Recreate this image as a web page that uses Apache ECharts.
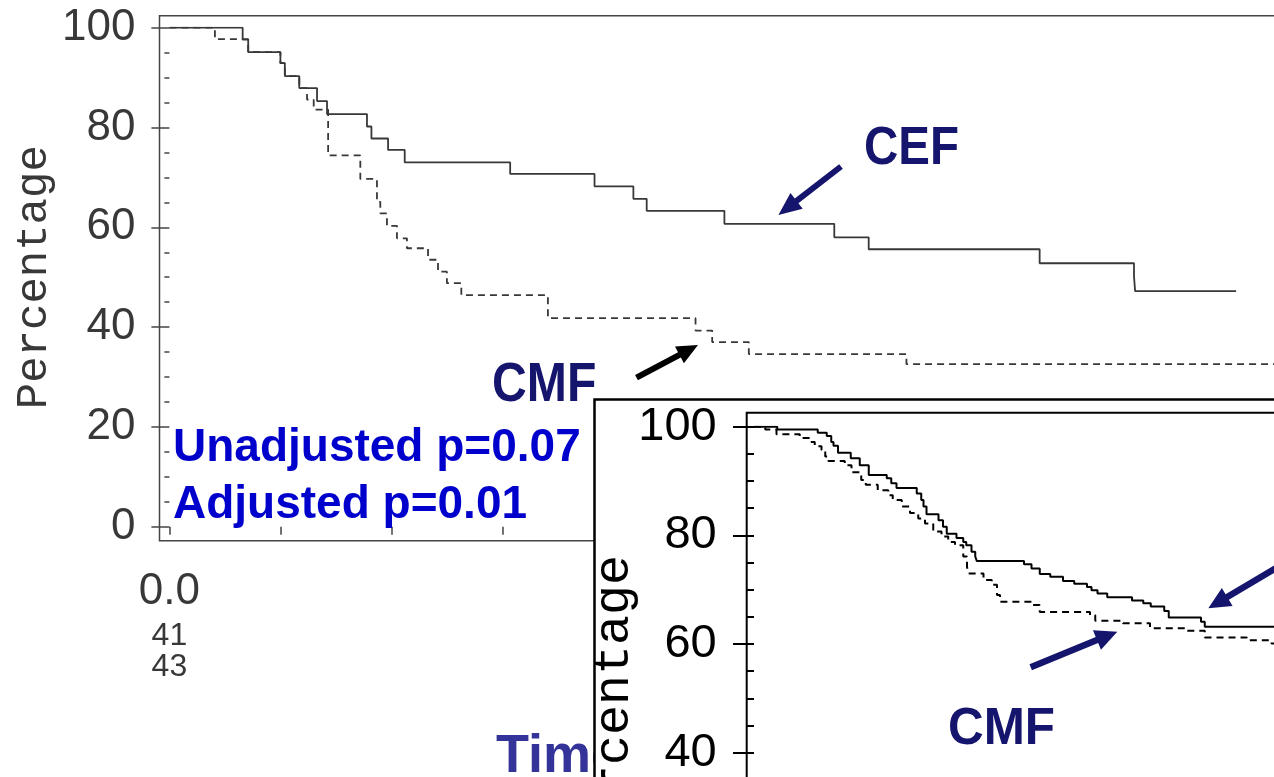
<!DOCTYPE html>
<html><head><meta charset="utf-8">
<script src="https://cdn.jsdelivr.net/npm/echarts@6/dist/echarts.min.js"></script>
<style>html,body{margin:0;padding:0;background:#fff}#c{width:1274px;height:777px}</style>
</head><body><div id="c"></div>
<script>
// ---- Main Kaplan-Meier chart (time in axis units, % event-free) ----
const mainCefTime = [0, 0.66, 0.71, 1.00, 1.04, 1.17, 1.33, 1.42, 1.78, 1.82, 1.97, 2.12, 3.07, 3.83, 4.18, 4.30, 5.00, 5.99, 6.30, 7.84, 8.69, 8.70, 9.61];
const mainCefPct  = [100, 97.6, 95.1, 92.9, 90.3, 87.9, 85.3, 82.7, 80.2, 77.8, 75.5, 73.0, 70.7, 68.2, 65.7, 63.3, 60.7, 58.0, 55.6, 52.8, 50.2, 47.2, 47.2];
const mainCmfTime = [0, 0.41, 0.71, 1.00, 1.04, 1.17, 1.24, 1.30, 1.43, 1.72, 1.87, 1.90, 1.96, 2.05, 2.14, 2.33, 2.42, 2.50, 2.63, 3.41, 4.74, 4.89, 5.22, 6.64, 10.2];
const mainCmfPct  = [100, 97.7, 95.1, 92.9, 90.3, 87.9, 85.6, 83.6, 74.4, 69.7, 65.1, 62.8, 60.3, 57.8, 55.8, 53.5, 51.1, 48.8, 46.4, 41.8, 39.3, 37.0, 34.6, 32.6, 32.6];
const mainYTicks = [0, 20, 40, 60, 80, 100];
const mainXTickLabels = ['0.0'];
const atRiskCEF = [41];
const atRiskCMF = [43];

// ---- Inset Kaplan-Meier chart ----
const insetCefTime = [0, 0.31, 0.85, 0.97, 1.03, 1.06, 1.12, 1.29, 1.41, 1.53, 1.77, 1.83, 1.90, 2.17, 2.23, 2.26, 2.30, 2.46, 2.52, 2.57, 2.70, 2.79, 2.83, 2.90, 2.95, 2.97, 3.60, 3.70, 3.81, 3.95, 4.12, 4.27, 4.44, 4.50, 4.58, 4.71, 5.04, 5.19, 5.29, 5.47, 5.53, 5.96, 6.01, 7.2];
const insetCefPct  = [100, 99.5, 98.9, 98.3, 97.2, 96.5, 95.2, 94.2, 92.9, 91.1, 90.5, 89.6, 88.7, 87.7, 86.5, 85.3, 83.9, 82.8, 81.6, 80.3, 79.5, 78.8, 78.2, 77.0, 76.1, 75.3, 74.7, 73.9, 72.9, 72.4, 71.6, 71.1, 70.5, 69.9, 69.3, 68.6, 68.0, 67.5, 66.9, 66.1, 64.9, 64.1, 63.2, 63.2];
const insetCmfTime = [0, 0.15, 0.30, 0.61, 0.75, 0.81, 0.90, 0.95, 0.99, 1.21, 1.30, 1.43, 1.49, 1.65, 1.79, 1.85, 1.97, 2.08, 2.19, 2.28, 2.39, 2.50, 2.59, 2.68, 2.79, 2.84, 2.86, 3.06, 3.17, 3.24, 3.28, 3.70, 3.81, 4.48, 4.55, 4.92, 5.28, 5.77, 6.01, 6.57, 6.90, 7.2];
const insetCmfPct  = [100, 99.5, 98.6, 97.9, 97.2, 96.4, 95.7, 94.5, 93.7, 92.9, 91.6, 90.2, 89.3, 88.3, 87.4, 86.5, 85.3, 84.1, 83.1, 82.2, 80.7, 79.8, 78.8, 78.2, 76.1, 74.2, 73.0, 71.8, 70.9, 69.0, 67.8, 67.2, 65.9, 65.3, 64.3, 63.8, 62.9, 62.45, 61.2, 60.7, 60.1, 60.1];

const zip = (a, b) => a.map((v, i) => [v, b[i]]);

const NAVY = '#15156e';
const GREY = '#383838';

function arrow(x1, y1, x2, y2, w, hl, hw, color, z) {
  const dx = x2 - x1, dy = y2 - y1, L = Math.hypot(dx, dy);
  const ux = dx / L, uy = dy / L, px = -uy, py = ux;
  const bx = x2 - ux * hl, by = y2 - uy * hl;
  const pts = [
    [x1 + px * w / 2, y1 + py * w / 2], [bx + px * w / 2, by + py * w / 2],
    [bx + px * hw / 2, by + py * hw / 2], [x2, y2],
    [bx - px * hw / 2, by - py * hw / 2], [bx - px * w / 2, by - py * w / 2],
    [x1 - px * w / 2, y1 - py * w / 2]
  ];
  return { type: 'polygon', z: z, shape: { points: pts }, style: { fill: color } };
}

const chart = echarts.init(document.getElementById('c'), null, { renderer: 'canvas' });

chart.setOption({
  animation: false,
  backgroundColor: '#ffffff',
  grid: [
    { left: 169.4, top: 27.7, width: 1132.2, height: 499, outerBoundsMode: 'none', containLabel: false },
    { left: 754, top: 426.7, width: 900, height: 543.3, outerBoundsMode: 'none', containLabel: false }
  ],
  xAxis: [
    {
      gridIndex: 0, type: 'value', min: 0, max: 10.2, interval: 1, offset: 14,
      axisLine: { show: false },
      axisTick: { show: true, length: 8, lineStyle: { color: '#444', width: 1.5 } },
      splitLine: { show: false },
      axisLabel: {
        margin: 22,
        formatter: function (v) {
          const i = Math.round(v);
          if (Math.abs(v - i) < 1e-6 && i < mainXTickLabels.length) {
            return '{t|' + mainXTickLabels[i] + '}\n{r|' + atRiskCEF[i] + '}\n{r|' + atRiskCMF[i] + '}';
          }
          return '';
        },
        rich: {
          t: { fontSize: 44, lineHeight: 58, fontFamily: 'Liberation Sans', color: GREY },
          r: { fontSize: 32, lineHeight: 31, fontFamily: 'Liberation Sans', color: GREY }
        }
      }
    },
    { gridIndex: 1, type: 'value', min: 0, max: 12, show: false }
  ],
  yAxis: [
    {
      gridIndex: 0, type: 'value', min: 0, max: 100, interval: 20, offset: 10,
      axisLine: { show: false },
      axisTick: { show: true, length: 18, lineStyle: { color: '#444', width: 1.5 } },
      minorTick: { show: true, splitNumber: 4, length: 5, lineStyle: { color: '#444', width: 1.5 } },
      splitLine: { show: false },
      axisLabel: { margin: 24, fontSize: 44, fontFamily: 'Liberation Sans', color: GREY,
        formatter: v => mainYTicks.includes(v) ? String(v) : '' },
      name: 'Percentage', nameLocation: 'middle', nameGap: 103, nameMoveOverlap: false,
      nameTextStyle: { fontSize: 44, fontFamily: 'Liberation Mono', color: GREY }
    },
    {
      gridIndex: 1, type: 'value', min: 0, max: 100, interval: 20, offset: 7.3, z: 30,
      axisLine: { show: false },
      axisTick: { show: true, length: 21, lineStyle: { color: '#000', width: 2 } },
      minorTick: { show: true, splitNumber: 4, length: 7, lineStyle: { color: '#000', width: 2 } },
      splitLine: { show: false },
      axisLabel: { margin: 30, fontSize: 47, fontFamily: 'Liberation Sans', color: '#000' }
    }
  ],
  series: [
    { name: 'CEF', type: 'line', step: 'end', xAxisIndex: 0, yAxisIndex: 0, showSymbol: false, z: 2,
      data: zip(mainCefTime, mainCefPct), lineStyle: { color: GREY, width: 1.8 } },
    { name: 'CMF', type: 'line', step: 'end', xAxisIndex: 0, yAxisIndex: 0, showSymbol: false, z: 2,
      data: zip(mainCmfTime, mainCmfPct), lineStyle: { color: GREY, width: 1.8, type: [7, 5] } },
    { name: 'CEF inset', type: 'line', step: 'end', xAxisIndex: 1, yAxisIndex: 1, showSymbol: false, z: 30,
      data: zip(insetCefTime, insetCefPct), lineStyle: { color: '#000', width: 2 } },
    { name: 'CMF inset', type: 'line', step: 'end', xAxisIndex: 1, yAxisIndex: 1, showSymbol: false, z: 30,
      data: zip(insetCmfTime, insetCmfPct), lineStyle: { color: '#000', width: 2, type: [7, 5] } }
  ],
  graphic: [
    // main frame
    { type: 'rect', z: 1, shape: { x: 159.5, y: 15.7, width: 1300, height: 525 },
      style: { fill: 'none', stroke: '#444', lineWidth: 1.5 } },
    // main annotations
    { type: 'text', z: 5, x: 864, y: 149, scaleX: 0.88,
      style: { text: 'CEF', fontSize: 54, fontWeight: 'bold', fontFamily: 'Liberation Sans', fill: NAVY, verticalAlign: 'middle', align: 'left' } },
    { type: 'text', z: 5, x: 492, y: 386, scaleX: 0.86,
      style: { text: 'CMF', fontSize: 56, fontWeight: 'bold', fontFamily: 'Liberation Sans', fill: NAVY, verticalAlign: 'middle', align: 'left' } },
    { type: 'text', z: 5, x: 173, y: 448,
      style: { text: 'Unadjusted p=0.07', fontSize: 46, fontWeight: 'bold', fontFamily: 'Liberation Sans', fill: '#0000cc', verticalAlign: 'middle', align: 'left' } },
    { type: 'text', z: 5, x: 173, y: 505,
      style: { text: 'Adjusted p=0.01', fontSize: 46, fontWeight: 'bold', fontFamily: 'Liberation Sans', fill: '#0000cc', verticalAlign: 'middle', align: 'left' } },
    { type: 'text', z: 5, x: 496, y: 757,
      style: { text: 'Time', fontSize: 54, fontWeight: 'bold', fontFamily: 'Liberation Sans', fill: '#333399', verticalAlign: 'middle', align: 'left' } },
    arrow(841, 166.5, 778.4, 215, 6, 23, 20, NAVY, 5),
    arrow(636.5, 377.7, 698, 345, 6, 21, 19, '#000', 5),
    // inset frame
    { type: 'rect', z: 20, shape: { x: 594.5, y: 399.5, width: 800, height: 500 },
      style: { fill: '#fff', stroke: '#000', lineWidth: 2.5 } },
    { type: 'rect', z: 21, shape: { x: 746.7, y: 412.7, width: 700, height: 600 },
      style: { fill: 'none', stroke: '#000', lineWidth: 2 } },
    { type: 'text', z: 25, x: 615, y: 705, rotation: Math.PI / 2,
      style: { text: 'Percentage', fontSize: 50, fontFamily: 'Liberation Mono', fill: '#000', verticalAlign: 'middle', align: 'center' } },
    { type: 'text', z: 25, x: 948, y: 730, scaleX: 0.95,
      style: { text: 'CMF', fontSize: 52, fontWeight: 'bold', fontFamily: 'Liberation Sans', fill: NAVY, verticalAlign: 'middle', align: 'left' } },
    arrow(1285, 562.7, 1208.3, 608.3, 6.5, 22, 21, NAVY, 25),
    arrow(1030.7, 667.3, 1117.3, 631.7, 6.5, 22, 21, NAVY, 25)
  ]
});
</script>
</body></html>
